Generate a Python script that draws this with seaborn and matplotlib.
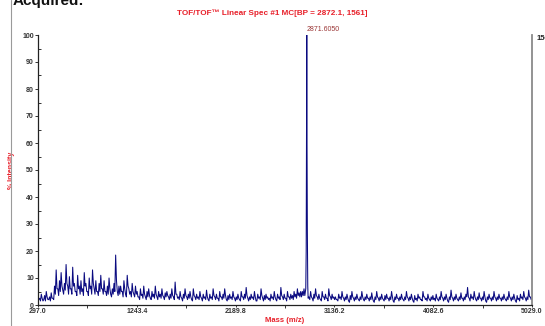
import numpy as np
import pandas as pd
import matplotlib
matplotlib.use("Agg")
import matplotlib.pyplot as plt
from matplotlib.lines import Line2D
from matplotlib.ticker import MultipleLocator, FixedLocator
import seaborn as sns

# ---------------- data ----------------
mass_min, mass_max = 297.0, 5029.0
x_ticks = [297.0, 1243.4, 2189.8, 3136.2, 4082.6, 5029.0]
x_tick_labels = ["297.0", "1243.4", "2189.8", "3136.2", "4082.6", "5029.0"]

# upper edge of the noise band (% intensity), evenly sampled 297..5029 m/z
noise_int = [
    3, 2.5, 4, 1.5, 3.5, 5, 2, 3, 4.5, 2.5, 7, 13, 6, 9, 12, 5.5, 8, 15, 7, 10.5,
    6, 14, 8, 5, 11, 7, 9, 6, 12, 8, 5, 10, 7, 13, 6, 9, 5, 8, 11, 6,
    9, 5, 7, 10, 4, 6, 8, 18.5, 5, 7, 7, 5, 9, 4, 11, 6, 5, 8, 4, 7,
    5, 3, 6, 4, 7, 3, 5, 6, 2.5, 5, 4, 7, 3, 5, 4, 6, 3, 4.5, 5, 3,
    4, 6, 3, 8.5, 4, 3, 5, 2.5, 4, 6, 3, 4, 5, 2, 6, 3, 4, 3, 5, 2.5,
    4, 3, 5.5, 2, 4, 3, 6, 3, 4, 2.5, 5, 3, 4, 6, 2, 3.5, 4, 3, 5, 2.5,
    3, 4, 2, 5, 3, 4, 6.5, 2.5, 3, 4, 3, 5, 1.5, 4, 3, 6, 2.5, 3.5, 4, 3,
    2.5, 4, 3, 5, 2, 4, 3, 6.5, 3, 4, 2.5, 5, 3, 4, 3.5, 5, 4, 6, 4.5, 5,
    5, 6, 5, 4, 3, 5, 2.5, 4, 6, 3, 4, 2, 5, 3, 4, 2.5, 6, 3, 4, 3,
    3, 2, 4, 3, 5, 2.5, 3, 4, 1.5, 3.5, 5, 2.5, 3, 4, 2, 3, 5, 2, 3, 4,
    2.5, 3, 4.5, 1.5, 3, 5, 2.5, 3, 4, 2, 3.5, 4, 2.5, 3, 5, 1.5, 3, 4, 2.5, 3,
    4, 2, 3, 5, 2.5, 3, 4, 1.5, 3.5, 2.5, 4, 3, 2, 5, 3, 2.5, 4, 2, 3, 3.5,
    2.5, 4, 2, 3, 5, 2.5, 3, 4, 1.5, 3, 5.5, 2.5, 3, 4, 2, 3, 4.5, 2.5, 3, 4,
    6.5, 2.5, 4, 3, 5, 2, 3, 4.5, 2.5, 3, 5, 1.5, 3, 4, 2.5, 3, 5, 2.5, 3, 4,
    2.5, 3, 4, 2, 3, 5, 2.5, 3, 4, 1.5, 3.5, 2.5, 4, 3, 5, 2.5, 3, 5.5, 3, 2.5,
]
# lower edge of the noise band, sampled half a step later
noise_low = [
    2, 1.5, 2.5, 2, 1.5, 3, 2, 1.5, 2.5, 2, 4, 6, 3.5, 5, 7, 4, 5.5, 8, 4, 6,
    4, 7, 5, 3.5, 6, 4, 5, 3.5, 7, 5, 3.5, 6, 4, 8, 4, 5, 3.5, 5, 6, 4,
    5, 3.5, 4, 6, 3, 4, 5, 9, 3.5, 4, 5, 3, 6, 3, 7, 4, 3, 5, 3, 4,
    3, 2, 3.5, 2.5, 4, 2, 3, 3.5, 2, 3, 2.5, 4, 2, 3, 2.5, 3.5, 2, 3, 3.5, 2,
    2.5, 3.5, 2, 4, 2.5, 2, 3, 1.5, 2.5, 3.5, 2, 2.5, 3, 1.5, 3.5, 2, 2.5, 2, 3, 1.5,
    2.5, 2, 3, 1.5, 2.5, 2, 3.5, 2, 2.5, 1.5, 3, 2, 2.5, 3.5, 1.5, 2, 2.5, 2, 3, 1.5,
    2, 2.5, 1.5, 3, 2, 2.5, 3.5, 1.5, 2, 2.5, 2, 3, 1.5, 2.5, 2, 3.5, 1.5, 2, 2.5, 2,
    1.5, 2.5, 2, 3, 1.5, 2.5, 2, 3.5, 2, 2.5, 1.5, 3, 2, 2.5, 2, 3, 2.5, 3.5, 3, 3,
    3.5, 3.5, 3, 2.5, 2, 3, 1.5, 2.5, 3.5, 2, 2.5, 1.5, 3, 2, 2.5, 1.5, 3.5, 2, 2.5, 2,
    2, 1.5, 2.5, 2, 3, 1.5, 2, 2.5, 1, 2, 3, 1.5, 2, 2.5, 1.5, 2, 3, 1.5, 2, 2.5,
    1.5, 2, 2.5, 1, 2, 3, 1.5, 2, 2.5, 1.5, 2, 2.5, 1.5, 2, 3, 1, 2, 2.5, 1.5, 2,
    2.5, 1.5, 2, 3, 1.5, 2, 2.5, 1, 2, 1.5, 2.5, 2, 1.5, 3, 2, 1.5, 2.5, 1.5, 2, 2,
    1.5, 2.5, 1.5, 2, 3, 1.5, 2, 2.5, 1, 2, 3, 1.5, 2, 2.5, 1.5, 2, 2.5, 1.5, 2, 3,
    3, 1.5, 2.5, 2, 3, 1.5, 2, 2.5, 1.5, 2, 3, 1, 2, 2.5, 1.5, 2, 3, 1.5, 2, 2.5,
    1.5, 2, 2.5, 1.5, 2, 3, 1.5, 2, 2.5, 1, 2, 1.5, 2.5, 2, 3, 1.5, 2, 3, 2, 1.5,
]

# base peak
peak_label = "2871.6050"
peak_mz = [2862.0, 2866.0, 2869.0, 2871.6, 2874.0, 2877.0, 2881.0]
peak_int = [6, 20, 70, 100, 60, 28, 7]

title = "TOF/TOF\u2122 Linear Spec #1 MC[BP = 2872.1, 1561]"
right_label = "1561"

# ---------------- assemble ----------------
grid = np.linspace(mass_min, mass_max, len(noise_int))
step = grid[1] - grid[0]
noise = pd.DataFrame({
    "mz": np.concatenate([grid, grid + step / 2]),
    "intensity": noise_int + noise_low,
})
noise = noise[((noise["mz"] - 2871.6).abs() > 12) & (noise["mz"] <= mass_max)]
peak = pd.DataFrame({"mz": peak_mz, "intensity": peak_int})
df = pd.concat([noise, peak]).sort_values("mz").reset_index(drop=True)

# ---------------- plot ----------------
sns.set_style("white")
plt.rcParams["font.family"] = ["Liberation Sans", "DejaVu Sans"]

fig = plt.figure(figsize=(5.45, 3.26), dpi=100)
ax = fig.add_axes([38 / 545, 21 / 326, 494 / 545, 270 / 326])

sns.lineplot(data=df, x="mz", y="intensity", ax=ax, color="#0a0a80",
             linewidth=0.75, estimator=None, sort=False)

ax.set_xlim(mass_min, mass_max)
ax.set_ylim(0, 100)

ax.spines["top"].set_visible(False)
ax.spines["left"].set_color("#222222")
ax.spines["left"].set_linewidth(0.9)
ax.spines["bottom"].set_color("#222222")
ax.spines["bottom"].set_linewidth(0.9)
ax.spines["right"].set_color("#8a8a8a")
ax.spines["right"].set_linewidth(1.3)

ax.xaxis.set_major_locator(FixedLocator(x_ticks))
ax.set_xticklabels(x_tick_labels)
mids = [(a + b) / 2 for a, b in zip(x_ticks[:-1], x_ticks[1:])]
ax.xaxis.set_minor_locator(FixedLocator(mids))
ax.yaxis.set_major_locator(MultipleLocator(10))
ax.yaxis.set_minor_locator(MultipleLocator(5))

ax.tick_params(axis="x", which="major", direction="out", length=1.5, width=0.7,
               pad=1, labelsize=5, labelcolor="#333333", color="#333333")
ax.tick_params(axis="x", which="minor", direction="out", length=2.5, width=0.7,
               color="#333333")
ax.tick_params(axis="y", which="major", direction="out", length=2.5, width=0.7,
               pad=0.5, labelsize=5, labelcolor="#333333", color="#333333")
ax.tick_params(axis="y", which="minor", direction="in", length=2, width=0.7,
               color="#333333")
ax.tick_params(left=True, bottom=True, right=False, which="both")
for lab in ax.get_xticklabels() + ax.get_yticklabels():
    lab.set_fontweight("bold")

ax.set_xlabel("Mass (m/z)", color="#e8202a", fontsize=5.5, fontweight="bold")
ax.xaxis.set_label_coords(0.5, -0.046)
ax.set_ylabel("% Intensity", color="#e8202a", fontsize=5, fontweight="bold")
ax.yaxis.set_label_coords(-0.047, 0.5)

ax.text((272 - 38) / 494, (305 - 13.5) / 270, title, transform=ax.transAxes,
        ha="center", va="center", color="#e8202a", fontsize=5.9,
        fontweight="bold", clip_on=False)

ax.annotate(peak_label, xy=(2871.6, 100.8), ha="left", va="bottom",
            fontsize=5, color="#9a3535", annotation_clip=False)

# right-hand scale value (cut by the screenshot edge in the reference)
fig.text(537 / 545, 1 - 38.5 / 326, right_label, ha="left", va="center",
         fontsize=5.5, fontweight="bold", color="#222222")

# document frame remnants
fig.add_artist(Line2D([10.5 / 545, 10.5 / 545], [0, 1], transform=fig.transFigure,
                      color="#9a9a9a", linewidth=0.8))
fig.text(13 / 545, 1 - 5 / 326, "Acquired:", ha="left", va="baseline",
         fontsize=11, fontweight="bold", color="#111111")

fig.savefig("out.png", dpi=100)
